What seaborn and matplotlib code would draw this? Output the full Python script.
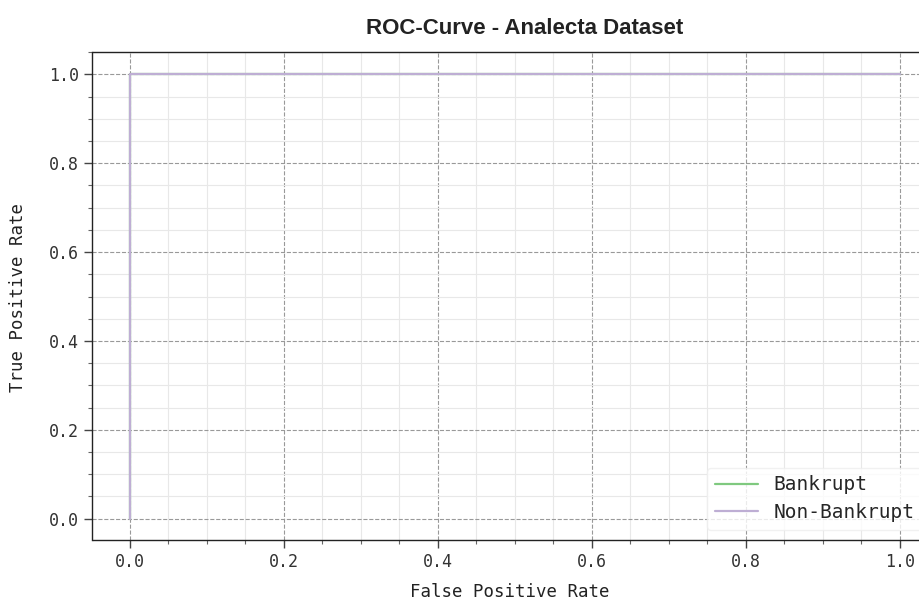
import pandas as pd
import seaborn as sns
import matplotlib.pyplot as plt
from matplotlib.ticker import AutoMinorLocator

# ROC points
fpr_bankrupt = [0.0, 0.0, 1.0]
tpr_bankrupt = [0.0, 1.0, 1.0]
fpr_non_bankrupt = [0.0, 0.0, 1.0]
tpr_non_bankrupt = [0.0, 1.0, 1.0]
classes = ["Bankrupt", "Non-Bankrupt"]


def main():
    sns.set_theme(style="white")
    plt.rcParams['font.family'] = ['DejaVu Sans Mono']

    df = pd.concat([
        pd.DataFrame({"fpr": fpr_bankrupt, "tpr": tpr_bankrupt, "cls": classes[0]}),
        pd.DataFrame({"fpr": fpr_non_bankrupt, "tpr": tpr_non_bankrupt, "cls": classes[1]}),
    ], ignore_index=True)

    W, H = 920, 603
    fig = plt.figure(figsize=(W / 100, H / 100), dpi=100)
    # axes run past the right edge, like the original crop
    left, bottom, width, height = 92.5, 63, 855.6, 487.8
    ax = fig.add_axes([left / W, bottom / H, width / W, height / H])

    sns.lineplot(data=df, x="fpr", y="tpr", hue="cls", palette="Accent",
                 estimator=None, sort=False, linewidth=1.6, ax=ax)

    ax.set_xlim(-0.0487, 1.0625)
    ax.set_ylim(-0.048, 1.05)
    ax.set_xticks([0, 0.2, 0.4, 0.6, 0.8, 1.0])
    ax.set_yticks([0, 0.2, 0.4, 0.6, 0.8, 1.0])
    ax.xaxis.set_minor_locator(AutoMinorLocator(4))
    ax.yaxis.set_minor_locator(AutoMinorLocator(4))
    ax.tick_params(which="major", length=6, width=1, color="#444444",
                   labelsize=12, labelcolor="#333333", bottom=True, left=True)
    ax.tick_params(which="minor", length=3, width=0.8, color="#666666",
                   bottom=True, left=True)
    ax.grid(which="major", linestyle="--", color="#999999", linewidth=0.8)
    ax.grid(which="minor", linestyle="-", color="#e8e8e8", linewidth=0.8)
    ax.set_axisbelow(True)
    for side in ["left", "bottom", "top", "right"]:
        ax.spines[side].set_color("#222222")
        ax.spines[side].set_linewidth(1.0)

    ax.set_xlabel("False Positive Rate", fontsize=12.5, color="#222222")
    ax.set_ylabel("True Positive Rate", fontsize=12.5, color="#222222")
    ax.xaxis.set_label_coords((510 - left) / width, -(583 - 540) / height)
    ax.yaxis.set_label_coords(-(left - 27) / width, (540 - 297) / height)
    ax.set_title("ROC-Curve - Analecta Dataset", fontsize=16, fontweight="bold",
                 family="Liberation Sans", color="#222222",
                 x=(525 - left) / width, y=1.0, pad=13)

    ax.legend(title=None, loc="lower right",
              bbox_to_anchor=(922 / W, (H - 530) / H), bbox_transform=fig.transFigure,
              borderaxespad=0, fontsize=14, frameon=True, framealpha=0.8,
              edgecolor="#eeeeee", handlelength=2.2, borderpad=0.4,
              labelspacing=0.45)

    fig.savefig("out.png", dpi=100)


if __name__ == "__main__":
    main()
